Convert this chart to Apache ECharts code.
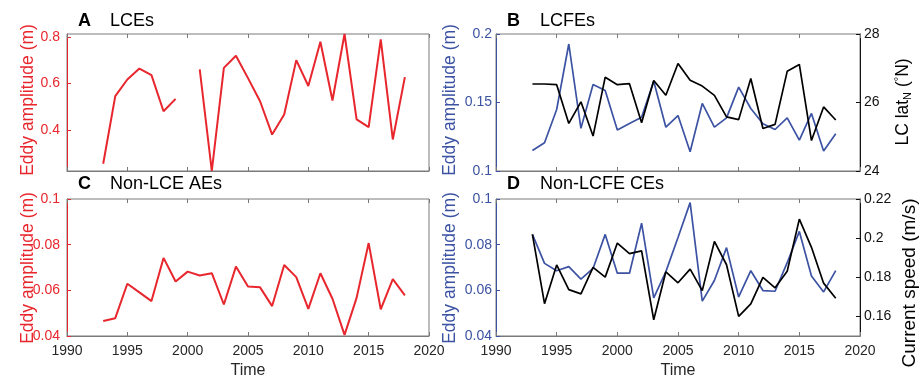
<!DOCTYPE html>
<html>
<head>
<meta charset="utf-8">
<script src="https://cdn.jsdelivr.net/npm/echarts@6/dist/echarts.min.js"></script>
<style>
  html, body { margin: 0; padding: 0; background: #fff; }
  #chart { width: 920px; height: 381px; }
</style>
</head>
<body>
<div id="chart"></div>
<script>
// Annual series, 1993-2018
const years = [1993, 1994, 1995, 1996, 1997, 1998, 1999, 2000, 2001, 2002, 2003, 2004, 2005,
               2006, 2007, 2008, 2009, 2010, 2011, 2012, 2013, 2014, 2015, 2016, 2017, 2018];

// A: Loop Current eddies, amplitude (m); no value for 2000
const lceAmp = [0.256, 0.546, 0.617, 0.664, 0.636, 0.481, 0.534, null, 0.660, 0.225, 0.667, 0.719, 0.623,
                0.524, 0.381, 0.467, 0.700, 0.589, 0.779, 0.527, 0.812, 0.446, 0.413, 0.789, 0.360, 0.627];

// B: Loop Current frontal eddies, amplitude (m) and northern LC latitude (deg N)
const lcfeAmp = [0.115, 0.1206, 0.1449, 0.1927, 0.1311, 0.1631, 0.1587, 0.130, 0.1347, 0.1393, 0.1655, 0.132, 0.1405,
                 0.114, 0.1493, 0.132, 0.1388, 0.1612, 0.1456, 0.1345, 0.1303, 0.1388, 0.1226, 0.142, 0.1146, 0.1272];
const lcLat = [26.54, 26.54, 26.52, 25.39, 26.02, 25.02, 26.74, 26.52, 26.55, 25.41, 26.64, 26.21, 27.14,
               26.65, 26.48, 26.21, 25.58, 25.50, 26.70, 25.24, 25.36, 26.91, 27.11, 24.89, 25.87, 25.49];

// C: non-LCE anticyclonic eddies, amplitude (m)
const nonLceAmp = [0.0466, 0.0478, 0.0629, 0.0591, 0.0553, 0.0742, 0.0639, 0.0682, 0.0665, 0.0675, 0.0538, 0.0704, 0.0617,
                   0.0613, 0.0531, 0.0711, 0.0658, 0.0519, 0.0675, 0.0563, 0.0405, 0.0567, 0.0807, 0.0517, 0.0649, 0.0578];

// D: non-LCFE cyclonic eddies, amplitude (m) and current speed (m/s)
const nonLcfeAmp = [0.0845, 0.0718, 0.0686, 0.0704, 0.0649, 0.0696, 0.0845, 0.0675, 0.0675, 0.0894, 0.0567, 0.0682, 0.0831,
                    0.0984, 0.0553, 0.0643, 0.0787, 0.0571, 0.0686, 0.0599, 0.0596, 0.0721, 0.0858, 0.0663, 0.0593, 0.0686];
const currentSpeed = [0.2019, 0.1665, 0.1863, 0.1737, 0.1715, 0.1851, 0.1801, 0.1975, 0.1921, 0.1935, 0.1583, 0.1828, 0.1772,
                      0.1842, 0.1732, 0.1983, 0.1864, 0.1600, 0.1664, 0.1800, 0.1746, 0.1831, 0.2097, 0.1953, 0.1770, 0.1693];

// Tick values
const yearTicks = [1990, 1995, 2000, 2005, 2010, 2015, 2020];
const lceTicks = [0.4, 0.6, 0.8];
const speedTicks = [0.16, 0.18, 0.2, 0.22];

const RED = '#e8262d';
const BLUE = '#3c52a3';
const FRAME = '#7a7a7a';
const TEXT = '#262626';
const FONT = '"Liberation Sans", Arial, Helvetica, sans-serif';

const pairs = (vals) => years.map((y, i) => [y, vals[i]]);

const grids = [
  { left: 67, top: 34, width: 362, height: 137 },
  { left: 496, top: 34, width: 364, height: 137 },
  { left: 67, top: 199, width: 362, height: 137 },
  { left: 496, top: 199, width: 364, height: 137 }
].map(g => Object.assign({ show: true, borderColor: FRAME, borderWidth: 1, backgroundColor: 'transparent', containLabel: false }, g));

function timeAxis(gridIndex, showLabels) {
  return {
    type: 'value', gridIndex, min: yearTicks[0], max: yearTicks[yearTicks.length - 1],
    axisLine: { show: true, lineStyle: { color: FRAME, width: 1 } },
    axisTick: { show: true, inside: true, length: 4, lineStyle: { color: FRAME }, customValues: yearTicks },
    axisLabel: { show: showLabels, color: TEXT, fontSize: 14, fontFamily: FONT, margin: 8,
                 customValues: yearTicks, formatter: v => String(v) },
    splitLine: { show: false }
  };
}
function topTimeAxis(gridIndex) {
  return {
    type: 'value', gridIndex, position: 'top', min: yearTicks[0], max: yearTicks[yearTicks.length - 1],
    axisLine: { show: false },
    axisTick: { show: true, inside: true, length: 4, lineStyle: { color: FRAME }, customValues: yearTicks },
    axisLabel: { show: false },
    splitLine: { show: false }
  };
}
function valueAxis(gridIndex, position, color, extra, margin) {
  return Object.assign({
    type: 'value', gridIndex, position,
    axisLine: { show: true, onZero: false, lineStyle: { color: color, width: 1 } },
    axisTick: { show: true, inside: true, length: 4, lineStyle: { color: color } },
    axisLabel: { color: color, fontSize: 14, fontFamily: FONT, margin: margin },
    splitLine: { show: false }
  }, extra);
}

const option = {
  animation: false,
  backgroundColor: '#fff',
  grid: grids,
  xAxis: [
    timeAxis(0, false), timeAxis(1, false), timeAxis(2, true), timeAxis(3, true),
    topTimeAxis(0), topTimeAxis(1), topTimeAxis(2), topTimeAxis(3)
  ],
  yAxis: [
    // A left
    (() => {
      const a = valueAxis(0, 'left', RED, { min: 'dataMin', max: 'dataMax' }, 7);
      a.axisLabel.customValues = lceTicks;
      a.axisTick.customValues = lceTicks;
      return a;
    })(),
    // B left and right
    valueAxis(1, 'left', BLUE, { min: 0.1, max: 0.2, interval: 0.05 }, 4),
    valueAxis(1, 'right', '#111', { min: 24, max: 28, interval: 2 }, 4),
    // C left
    valueAxis(2, 'left', RED, { min: 0.04, max: 0.1, interval: 0.02 }, 7),
    // D left and right
    valueAxis(3, 'left', BLUE, { min: 0.04, max: 0.1, interval: 0.02 }, 4),
    (() => {
      const a = valueAxis(3, 'right', '#111', { min: 0.15, max: 0.22 }, 4);
      a.axisLabel.customValues = speedTicks;
      a.axisTick.customValues = speedTicks;
      return a;
    })()
  ],
  series: [
    { type: 'line', xAxisIndex: 0, yAxisIndex: 0, data: pairs(lceAmp), color: RED },
    { type: 'line', xAxisIndex: 1, yAxisIndex: 1, data: pairs(lcfeAmp), color: BLUE },
    { type: 'line', xAxisIndex: 1, yAxisIndex: 2, data: pairs(lcLat), color: '#000' },
    { type: 'line', xAxisIndex: 2, yAxisIndex: 3, data: pairs(nonLceAmp), color: RED },
    { type: 'line', xAxisIndex: 3, yAxisIndex: 4, data: pairs(nonLcfeAmp), color: BLUE },
    { type: 'line', xAxisIndex: 3, yAxisIndex: 5, data: pairs(currentSpeed), color: '#000' }
  ].map(s => Object.assign({
    symbol: 'none', connectNulls: false,
    lineStyle: { width: s.color === RED ? 2 : 1.7, color: s.color }
  }, s)),
  graphic: [
    // panel headings
    { type: 'text', x: 78, y: 21, style: { text: 'A', font: 'bold 18px ' + FONT, fill: '#000', verticalAlign: 'middle' } },
    { type: 'text', x: 110, y: 21, style: { text: 'LCEs', font: '18px ' + FONT, fill: '#000', verticalAlign: 'middle' } },
    { type: 'text', x: 507, y: 21, style: { text: 'B', font: 'bold 18px ' + FONT, fill: '#000', verticalAlign: 'middle' } },
    { type: 'text', x: 540, y: 21, style: { text: 'LCFEs', font: '18px ' + FONT, fill: '#000', verticalAlign: 'middle' } },
    { type: 'text', x: 78, y: 184, style: { text: 'C', font: 'bold 18px ' + FONT, fill: '#000', verticalAlign: 'middle' } },
    { type: 'text', x: 110, y: 184, style: { text: 'Non-LCE AEs', font: '18px ' + FONT, fill: '#000', verticalAlign: 'middle' } },
    { type: 'text', x: 507, y: 184, style: { text: 'D', font: 'bold 18px ' + FONT, fill: '#000', verticalAlign: 'middle' } },
    { type: 'text', x: 540, y: 184, style: { text: 'Non-LCFE CEs', font: '18px ' + FONT, fill: '#000', verticalAlign: 'middle' } },
    // axis titles
    { type: 'text', x: 28, y: 100, rotation: Math.PI / 2, style: { text: 'Eddy amplitude (m)', font: '17.5px ' + FONT, fill: RED, align: 'center', verticalAlign: 'middle' } },
    { type: 'text', x: 28, y: 268, rotation: Math.PI / 2, style: { text: 'Eddy amplitude (m)', font: '17.5px ' + FONT, fill: RED, align: 'center', verticalAlign: 'middle' } },
    { type: 'text', x: 450, y: 100, rotation: Math.PI / 2, style: { text: 'Eddy amplitude (m)', font: '17.5px ' + FONT, fill: BLUE, align: 'center', verticalAlign: 'middle' } },
    { type: 'text', x: 450, y: 268, rotation: Math.PI / 2, style: { text: 'Eddy amplitude (m)', font: '17.5px ' + FONT, fill: BLUE, align: 'center', verticalAlign: 'middle' } },
    { type: 'text', x: 903, y: 102, rotation: Math.PI / 2, style: {
        text: 'LC lat{sub|N} ({sup|°}N)', font: '17.5px ' + FONT, fill: '#000', align: 'center', verticalAlign: 'middle',
        lineHeight: 20,
        rich: {
          sub: { fontSize: 11, fontFamily: FONT, fill: '#000', lineHeight: 10, verticalAlign: 'bottom' },
          sup: { fontSize: 11, fontFamily: FONT, fill: '#000', lineHeight: 10, verticalAlign: 'top' }
        }
      } },
    { type: 'text', x: 910, y: 283, rotation: Math.PI / 2, style: { text: 'Current speed (m/s)', font: '19px ' + FONT, fill: '#000', align: 'center', verticalAlign: 'middle' } },
    { type: 'text', x: 248, y: 371, style: { text: 'Time', font: '16px ' + FONT, fill: TEXT, align: 'center', verticalAlign: 'middle' } },
    { type: 'text', x: 678, y: 371, style: { text: 'Time', font: '16px ' + FONT, fill: TEXT, align: 'center', verticalAlign: 'middle' } }
  ]
};

const chart = echarts.init(document.getElementById('chart'), null, { renderer: 'canvas' });
chart.setOption(option);
</script>
</body>
</html>
